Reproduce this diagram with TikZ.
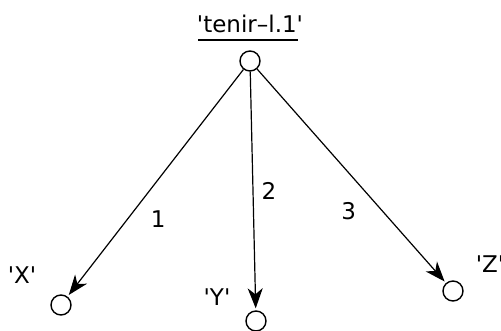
\documentclass[tikz,border=0pt]{standalone}
\usepackage{fontspec}
\setmainfont{DejaVu Sans}[Ligatures=TeXOff]
\usetikzlibrary{arrows.meta}

\begin{document}
\begin{tikzpicture}[
  x=1pt,y=-1pt,
  vertex/.style={draw,circle,line width=1.4pt,inner sep=0pt,minimum size=20pt},
  link/.style={-{Stealth[length=20pt,width=15pt,inset=6pt]},line width=1.2pt,shorten >=2pt},
  tag/.style={font=\fontsize{23}{26}\selectfont,inner sep=1pt}
]
\useasboundingbox (0,0) rectangle (501,331);
\node[vertex] (root) at (250,61) {};
\node[vertex] (x) at (61,305) {};
\node[vertex] (y) at (256,321) {};
\node[vertex] (z) at (453,291) {};
\node[tag] (roottag) at (250,24) {'tenir–l.1'};
\draw[line width=1.4pt] (198,40) -- (298,40);
\node[tag] (xtag) at (22,275) {'X'};
\node[tag] (ytag) at (217,297) {'Y'};
\node[tag] (ztag) at (490,264) {'Z'};
\draw[link] (root) -- node[tag,pos=0.66,right=22pt] {1} (x);
\draw[link] (root) -- node[tag,pos=0.5,right=7pt] {2} (y);
\draw[link] (root) -- node[tag,pos=0.665,left=25pt] {3} (z);
\end{tikzpicture}
\end{document}
